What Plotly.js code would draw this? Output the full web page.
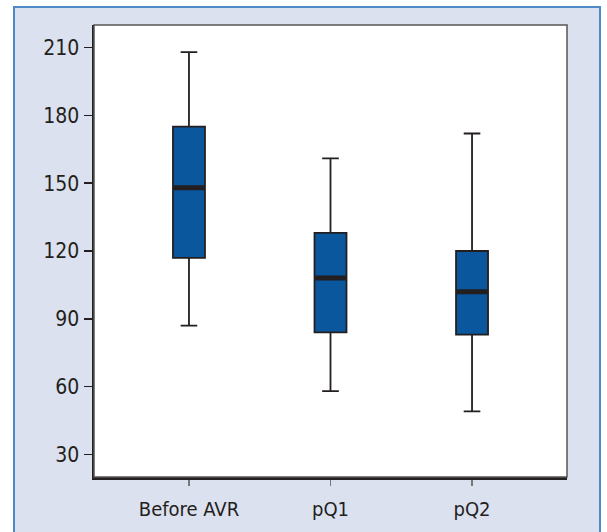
<!DOCTYPE html>
<html>
<head>
<meta charset="utf-8">
<script src="https://cdn.plot.ly/plotly-3.0.1.min.js"></script>
<style>
  html, body { margin: 0; padding: 0; background: #ffffff; }
  #frame { position: absolute; left: 13px; top: 6px; width: 588px; height: 540px;
           background: #dce1ef; border: 2px solid #4d8ac6; box-sizing: border-box; }
  #chart { position: absolute; left: 0; top: 0; width: 607px; height: 532px; }
</style>
</head>
<body>
<div id="frame"></div>
<div id="chart"></div>
<script>
// Data
var categories = ["Before AVR", "pQ1", "pQ2"];
var lowerWhisker = [87, 58, 49];
var q1Values = [117, 84, 83];
var medianValues = [148, 108, 102];
var q3Values = [175, 128, 120];
var upperWhisker = [208, 161, 172];
var yTickValues = [30, 60, 90, 120, 150, 180, 210];

var ink = "#231f20";
var fontFam = "'Liberation Sans Narrow', 'DejaVu Sans Condensed', 'Arial Narrow', sans-serif";

var boxes = {
  type: "box",
  x: categories,
  q1: q1Values,
  median: medianValues,
  q3: q3Values,
  lowerfence: lowerWhisker,
  upperfence: upperWhisker,
  fillcolor: "#0a579d",
  line: { color: ink, width: 1.8 },
  width: 0.226,
  whiskerwidth: 0.52,
  boxpoints: false,
  hoverinfo: "skip",
  showlegend: false
};

var medians = {
  type: "box",
  x: categories,
  q1: medianValues,
  median: medianValues,
  q3: medianValues,
  lowerfence: medianValues,
  upperfence: medianValues,
  fillcolor: ink,
  line: { color: ink, width: 5 },
  width: 0.215,
  whiskerwidth: 0,
  boxpoints: false,
  hoverinfo: "skip",
  showlegend: false
};

var layout = {
  width: 607,
  height: 532,
  margin: { l: 94, r: 40, t: 25, b: 55 },
  paper_bgcolor: "rgba(0,0,0,0)",
  plot_bgcolor: "#ffffff",
  boxmode: "overlay",
  font: { family: fontFam, size: 20, color: ink },
  xaxis: {
    type: "category",
    range: [-0.671, 2.671],
    showgrid: false,
    zeroline: false,
    showline: true,
    linecolor: ink,
    linewidth: 2.5,
    ticks: "outside",
    ticklen: 6,
    tickwidth: 1.5,
    tickcolor: "#777777",
    ticklabelstandoff: 6,
    tickfont: { family: fontFam, size: 20, color: ink }
  },
  yaxis: {
    range: [20, 220],
    tickvals: yTickValues,
    ticktext: yTickValues.map(String),
    showgrid: false,
    zeroline: false,
    showline: true,
    linecolor: ink,
    linewidth: 2.5,
    ticks: "outside",
    ticklen: 8,
    tickwidth: 1.5,
    tickcolor: ink,
    tickfont: { family: fontFam, size: 21, color: ink }
  },
  shapes: [
    { type: "rect", xref: "paper", yref: "paper", x0: 0, x1: 1, y0: 0, y1: 1,
      line: { color: "#555555", width: 1.5 }, layer: "above" }
  ]
};

Plotly.newPlot("chart", [boxes, medians], layout, { displayModeBar: false, staticPlot: true });
</script>
</body>
</html>
